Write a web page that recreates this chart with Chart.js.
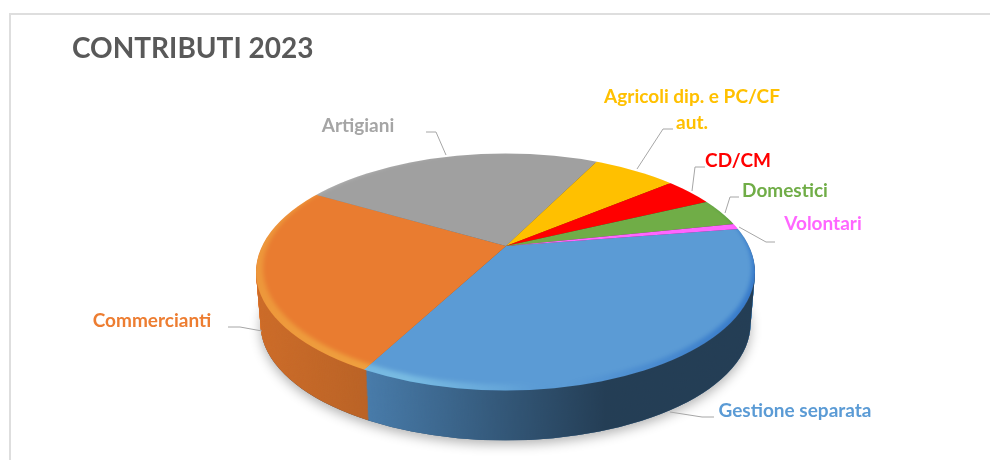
<!DOCTYPE html>
<html>
<head>
<meta charset="utf-8">
<title>Contributi 2023</title>
<script src="https://cdn.jsdelivr.net/npm/chart.js@4"></script>
<style>
  html, body { margin: 0; padding: 0; background: #fff; overflow: hidden; }
  #frame { position: absolute; left: 9px; top: 13px; width: 990px; height: 460px; border: 2px solid #dedede; }
  #pie3d { position: absolute; left: 0; top: 0; }
</style>
</head>
<body>
<div id="frame"></div>
<canvas id="pie3d" width="990" height="460"></canvas>
<script>
var categories = ['Gestione separata', 'Commercianti', 'Artigiani', 'Agricoli dip. e PC/CF aut.', 'CD/CM', 'Domestici', 'Volontari'];
var values = [35.4, 25.3, 24.3, 6.7, 3.9, 3.7, 0.75];
var colors = ['#5B9BD5', '#E97C30', '#A0A0A0', '#FFC000', '#FF0000', '#70AD47', '#FF66FF'];
var labelColors = ['#5B9BD5', '#ED7D31', '#A5A5A5', '#FFC000', '#FF0000', '#70AD47', '#FF66FF'];

// label text lines, centre x and baseline y of each line
var labelLayout = [
    { lines: ['Gestione separata'], x: 795, y: [417] },
    { lines: ['Commercianti'], x: 152, y: [327] },
    { lines: ['Artigiani'], x: 358, y: [132] },
    { lines: ['Agricoli dip. e PC/CF', 'aut.'], x: 692, y: [103, 129] },
    { lines: ['CD/CM'], x: 738, y: [167] },
    { lines: ['Domestici'], x: 785, y: [197] },
    { lines: ['Volontari'], x: 823, y: [230] }
];
var leaders = [
    [[714, 417], [702, 417], [670, 412]],
    [[228, 327], [240, 327], [262, 331]],
    [[426, 132], [436, 132], [446, 155]],
    [[673, 129], [663, 129], [637, 169]],
    [[705, 167], [695, 167], [692, 191]],
    [[739, 197], [730, 197], [725, 213]],
    [[775, 242], [766, 242], [739, 227]]
];

// top face of the pie as seen in perspective
var apex = { x: 506, y: 246 };
var top3d = { x: 505.5, y: 272, rx: 249.5, ry: 118.5 };
var depth = 52;
var squash = 0.475;
var fakeRadius = 340;

function pieTransform(ctx, el, dx, d, s) {
    ctx.translate(apex.x + dx, apex.y + d);
    var f = fakeRadius / el.outerRadius * s;
    ctx.scale(f, f * squash);
    ctx.translate(-el.x, -el.y);
}

function ellipsePath(ctx, d, s) {
    ctx.moveTo(top3d.x + top3d.rx * s, top3d.y + d);
    ctx.ellipse(top3d.x, top3d.y + d, top3d.rx * s, top3d.ry * s, 0, 0, Math.PI * 2);
}

function wallScale(d) {
    return 1 - 0.018 * d / depth;
}

var pie3d = {
    id: 'pie3d',
    beforeDatasetsDraw: function (chart) {
        var ctx = chart.ctx;
        var arcs = chart.getDatasetMeta(0).data;
        var d;

        // soft shadow under the pie
        ctx.save();
        ctx.shadowColor = 'rgba(0,0,0,0.3)';
        ctx.shadowBlur = 12;
        ctx.shadowOffsetY = 4;
        ctx.fillStyle = '#30465c';
        ctx.beginPath();
        ellipsePath(ctx, depth, wallScale(depth));
        ctx.fill();
        ctx.restore();

        // side wall: the same arcs stacked from the bottom up
        for (d = depth; d > 0; d--) {
            ctx.save();
            ctx.beginPath();
            ellipsePath(ctx, d, wallScale(d));
            ctx.clip();
            pieTransform(ctx, arcs[0], 2, d, wallScale(d));
            arcs.forEach(function (a) { a.draw(ctx); });
            ctx.restore();
        }

        // shade the whole wall once, dark towards the right
        var shade = ctx.createLinearGradient(256, 0, 755, 0);
        shade.addColorStop(0, 'rgba(0,0,0,0.12)');
        shade.addColorStop(0.22, 'rgba(0,0,0,0.2)');
        shade.addColorStop(0.5, 'rgba(0,0,0,0.44)');
        shade.addColorStop(0.7, 'rgba(0,0,0,0.6)');
        shade.addColorStop(1, 'rgba(0,0,0,0.6)');
        ctx.save();
        ctx.beginPath();
        for (d = depth; d > 0; d--) {
            ellipsePath(ctx, d, wallScale(d));
        }
        ctx.fillStyle = shade;
        ctx.fill();
        ctx.restore();
    },
    beforeDatasetDraw: function (chart) {
        var ctx = chart.ctx;
        ctx.save();
        ctx.beginPath();
        ellipsePath(ctx, 0, 1);
        ctx.clip();
        pieTransform(ctx, chart.getDatasetMeta(0).data[0], 0, 0, 1);
    },
    afterDatasetDraw: function (chart) {
        var ctx = chart.ctx;
        ctx.restore();

        // bevel along the front edge of the top face
        var rim = ctx.createLinearGradient(256, 0, 755, 0);
        rim.addColorStop(0, 'rgba(255,255,255,0.22)');
        rim.addColorStop(0.3, 'rgba(255,255,255,0.32)');
        rim.addColorStop(0.5, 'rgba(255,255,255,0.1)');
        rim.addColorStop(0.62, 'rgba(20,40,60,0)');
        rim.addColorStop(0.85, 'rgba(20,40,60,0.3)');
        rim.addColorStop(1, 'rgba(20,40,60,0.5)');
        ctx.save();
        ctx.beginPath();
        ellipsePath(ctx, 0, 1);
        ctx.clip();
        ctx.filter = 'blur(2px)';
        ctx.globalCompositeOperation = 'overlay';
        ctx.beginPath();
        ctx.ellipse(top3d.x, top3d.y, top3d.rx + 6, top3d.ry + 6, 0, 0, Math.PI * 2);
        ctx.ellipse(top3d.x + 2, top3d.y - 4, top3d.rx - 5, top3d.ry - 2, 0, 0, Math.PI * 2);
        ctx.fillStyle = rim;
        ctx.fill('evenodd');
        ctx.restore();
    },
    afterDraw: function (chart) {
        var ctx = chart.ctx;
        ctx.save();
        ctx.strokeStyle = '#A6A6A6';
        ctx.lineWidth = 1;
        leaders.forEach(function (pts) {
            ctx.beginPath();
            pts.forEach(function (p, i) {
                if (i === 0) ctx.moveTo(p[0], p[1]);
                else ctx.lineTo(p[0], p[1]);
            });
            ctx.stroke();
        });
        ctx.font = 'bold 19px Lato';
        ctx.textAlign = 'center';
        ctx.textBaseline = 'alphabetic';
        labelLayout.forEach(function (l, i) {
            ctx.fillStyle = labelColors[i];
            l.lines.forEach(function (t, j) {
                ctx.fillText(t, l.x, l.y[j]);
            });
        });
        ctx.restore();
    }
};

var ctx = document.getElementById('pie3d').getContext('2d');
var myChart = new Chart(ctx, {
    type: 'pie',
    data: {
        labels: categories,
        datasets: [{
            label: 'contributi',
            data: values,
            backgroundColor: colors,
            borderWidth: 0,
            clip: false
        }]
    },
    options: {
        responsive: false,
        animation: false,
        events: [],
        rotation: 81.2,
        layout: { padding: { left: 72, top: 32 } },
        plugins: {
            legend: { display: false },
            tooltip: { enabled: false },
            title: {
                display: true,
                text: 'CONTRIBUTI 2023',
                align: 'start',
                color: '#595959',
                font: { family: 'Lato', size: 28, weight: 'bold' },
                padding: 0
            }
        }
    },
    plugins: [pie3d]
});
</script>
</body>
</html>
